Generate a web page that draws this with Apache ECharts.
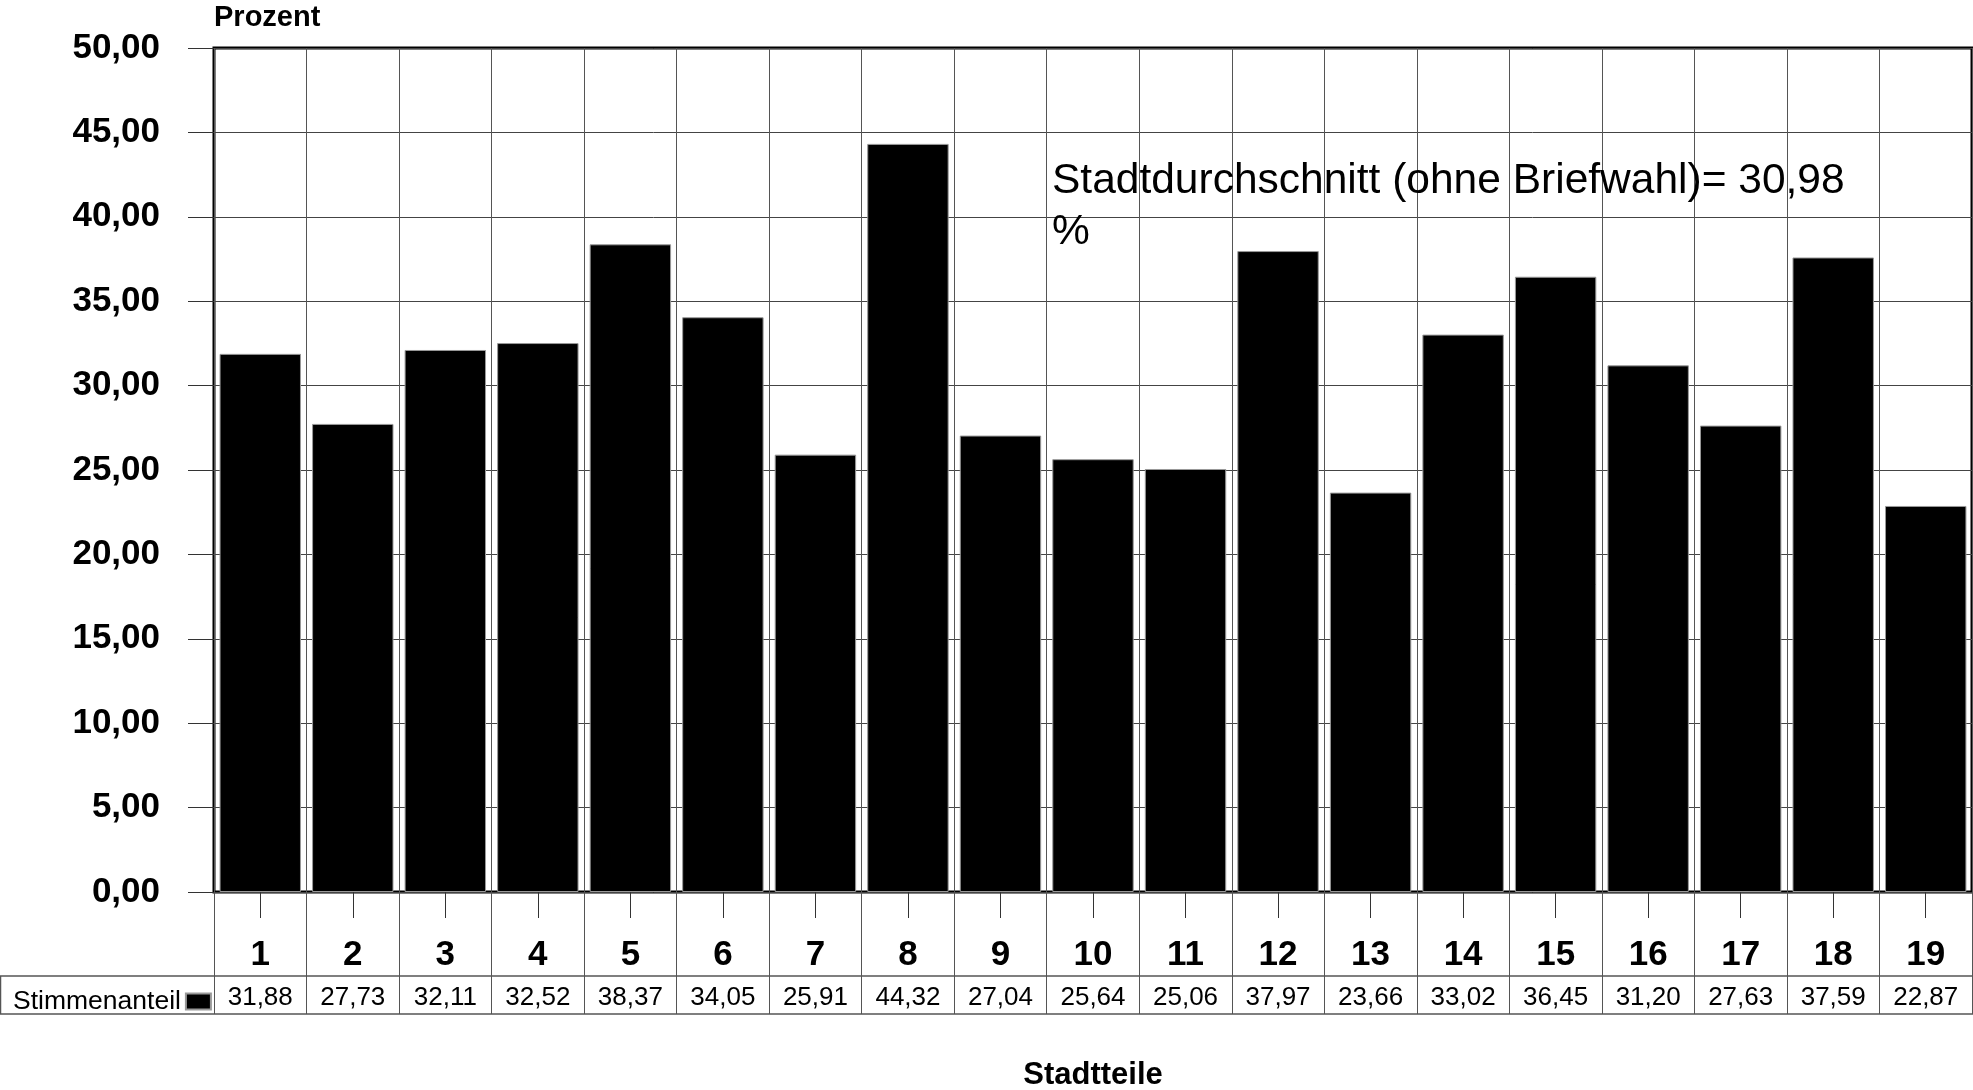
<!DOCTYPE html>
<html>
<head>
<meta charset="utf-8">
<script src="https://cdn.jsdelivr.net/npm/echarts@6/dist/echarts.min.js"></script>
<style>
html,body{margin:0;padding:0;background:#fff;}
#chart{width:1973px;height:1090px;}
</style>
</head>
<body>
<div id="chart"></div>
<script>
var categories = ['1','2','3','4','5','6','7','8','9','10','11','12','13','14','15','16','17','18','19'];
var seriesName = 'Stimmenanteil';
var values = [31.88, 27.73, 32.11, 32.52, 38.37, 34.05, 25.91, 44.32, 27.04, 25.64, 25.06, 37.97, 23.66, 33.02, 36.45, 31.20, 27.63, 37.59, 22.87];
var yTicks = { min: 0, max: 50, interval: 5 };
var yAxisTitle = 'Prozent';
var xAxisTitle = 'Stadtteile';
var averageText = 'Stadtdurchschnitt (ohne Briefwahl)= 30,98\n%';

function fmt(v) { return Number(v).toFixed(2).replace('.', ','); }

var FONT = '"Liberation Sans", Arial, sans-serif';
var chart = echarts.init(document.getElementById('chart'), null, { renderer: 'canvas' });

var gridLeft = 214, gridTop = 48, gridBottomY = 892, W = 1973;

chart.setOption({
  animation: false,
  backgroundColor: '#fff',
  textStyle: { fontFamily: FONT, color: '#000' },
  grid: {
    left: gridLeft, top: gridTop, right: 1, bottom: 1090 - gridBottomY,
    containLabel: false,
    outerBoundsMode: 'none',
    show: true, borderColor: '#000', borderWidth: 3, backgroundColor: 'transparent'
  },
  legend: {
    data: [seriesName],
    left: 8, top: 983,
    align: 'right',
    icon: 'rect',
    itemWidth: 25, itemHeight: 16,
    textStyle: { fontFamily: FONT, fontSize: 26.5, color: '#000' }
  },
  xAxis: [
    {
      type: 'category',
      data: categories,
      position: 'bottom',
      axisLine: { show: false },
      axisTick: { show: true, alignWithLabel: true, length: 26, lineStyle: { color: '#333', width: 1 } },
      axisLabel: { fontFamily: FONT, fontSize: 35, fontWeight: 'bold', color: '#000', margin: 46, lineHeight: 35 },
      splitLine: { show: true, lineStyle: { color: '#555', width: 1 } }
    },
    {
      type: 'category',
      data: categories,
      position: 'bottom',
      axisLine: { show: false },
      axisTick: { show: true, alignWithLabel: false, length: 122, lineStyle: { color: '#555', width: 1 } },
      axisLabel: {
        fontFamily: FONT, fontSize: 26, color: '#000', margin: 93, lineHeight: 26,
        formatter: function (v, i) { return fmt(values[i]); }
      },
      splitLine: { show: false },
      name: xAxisTitle,
      nameLocation: 'middle',
      nameGap: 183,
      nameTextStyle: { fontFamily: FONT, fontSize: 31, fontWeight: 'bold', color: '#000', verticalAlign: 'middle' }
    }
  ],
  yAxis: {
    type: 'value',
    min: yTicks.min, max: yTicks.max, interval: yTicks.interval,
    name: yAxisTitle,
    nameLocation: 'end',
    nameGap: 30,
    nameTextStyle: { fontFamily: FONT, fontSize: 29, fontWeight: 'bold', color: '#000', align: 'left', verticalAlign: 'middle' },
    axisLine: { show: false },
    axisTick: { show: true, length: 26, lineStyle: { color: '#333', width: 1 } },
    axisLabel: { fontFamily: FONT, fontSize: 35, fontWeight: 'bold', color: '#000', margin: 54, formatter: fmt },
    splitLine: { show: true, lineStyle: { color: '#444', width: 1 } }
  },
  series: [{
    name: seriesName,
    type: 'bar',
    data: values,
    barWidth: '88%',
    itemStyle: { color: '#000', borderColor: '#999', borderWidth: 1 },
    z: 3
  }],
  graphic: [
    { type: 'line', shape: { x1: 0, y1: 976, x2: W, y2: 976 }, style: { stroke: '#555', lineWidth: 1.5 }, z: 10 },
    { type: 'line', shape: { x1: 0, y1: 1014, x2: W, y2: 1014 }, style: { stroke: '#555', lineWidth: 1.5 }, z: 10 },
    { type: 'line', shape: { x1: 0.5, y1: 976, x2: 0.5, y2: 1014 }, style: { stroke: '#555', lineWidth: 1.5 }, z: 10 },
    {
      type: 'text', left: 1052, top: 156, z: 20,
      style: { text: averageText, font: '42.5px ' + FONT, fill: '#000', lineHeight: 51 }
    }
  ]
});
</script>
</body>
</html>
